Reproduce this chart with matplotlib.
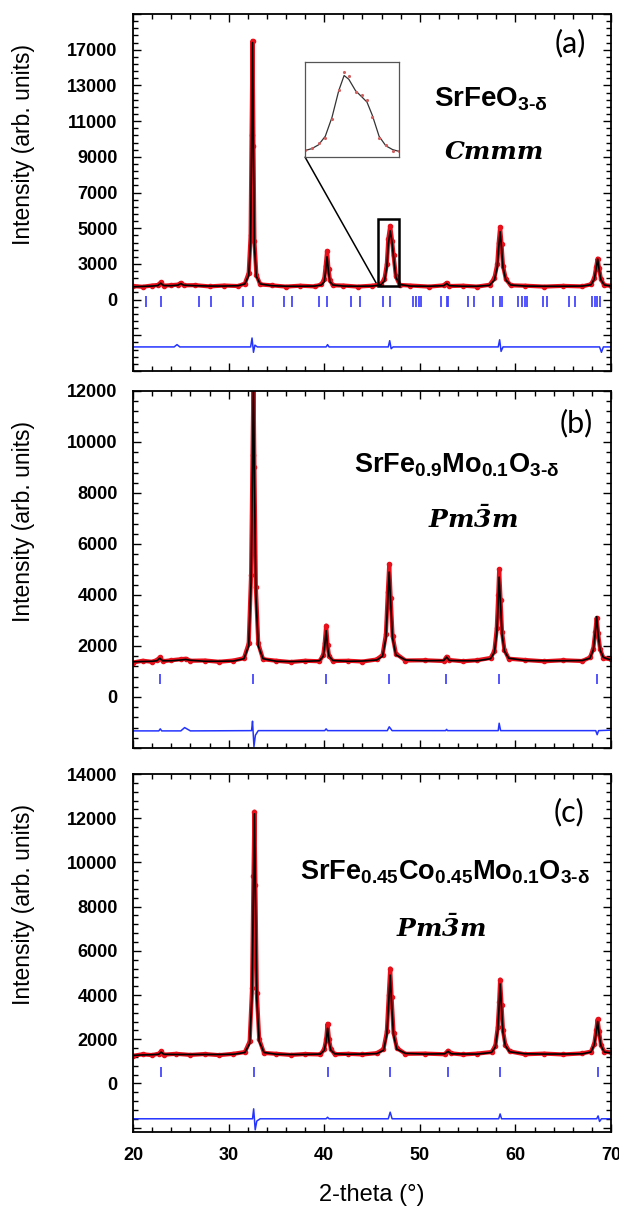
import matplotlib.pyplot as plt
from matplotlib.ticker import MultipleLocator, FuncFormatter
from matplotlib.patches import Rectangle, ConnectionPatch

plt.rcParams['font.family'] = ['Liberation Sans', 'DejaVu Sans']
plt.rcParams['font.weight'] = 'bold'
plt.rcParams['mathtext.fontset'] = 'custom'
plt.rcParams['mathtext.rm'] = 'Liberation Sans'
plt.rcParams['mathtext.bf'] = 'Liberation Sans:bold'
plt.rcParams['mathtext.bfit'] = 'DejaVu Serif:italic:bold'

# ---------------- panel (a) SrFeO3-d ----------------
x_a = [20.0, 21.0, 22.0, 22.6, 22.9, 23.2, 24.0, 24.7, 25.0, 25.3,
       26.5, 28.0, 29.5, 31.0, 31.7, 32.1, 32.3, 32.4, 32.5, 32.6,
       32.7, 32.9, 33.3, 34.5, 36.0, 37.5, 39.0, 39.7, 40.0, 40.15,
       40.3, 40.45, 40.6, 40.9, 42.0, 43.5, 45.0, 45.9, 46.3, 46.55,
       46.7, 46.9, 47.1, 47.25, 47.5, 47.9, 49.0, 51.0, 52.5, 52.8,
       53.1, 54.5, 56.0, 57.3, 57.8, 58.1, 58.25, 58.4, 58.55, 58.7,
       59.0, 59.5, 61.0, 63.0, 65.0, 67.0, 67.9, 68.25, 68.45, 68.6,
       68.75, 68.95, 69.3, 70.0]
calc_a = [1720, 1740, 1760, 1790, 1920, 1790, 1780, 1810, 1900, 1810,
          1780, 1760, 1760, 1780, 1880, 2350, 4200, 9500, 15400, 9000,
          4000, 2300, 1880, 1780, 1750, 1750, 1760, 1820, 2000, 2600,
          3400, 2550, 2000, 1820, 1760, 1750, 1760, 1820, 2050, 2800,
          4100, 4850, 4200, 3400, 2250, 1850, 1760, 1750, 1780, 1900,
          1780, 1750, 1750, 1800, 2100, 2800, 3900, 4800, 3900, 2800,
          2100, 1820, 1760, 1750, 1750, 1760, 1830, 2150, 2750, 3280,
          2700, 2100, 1820, 1760]
obs_a = [1760, 1720, 1790, 1820, 1960, 1780, 1810, 1840, 1940, 1800,
         1810, 1740, 1790, 1760, 1900, 2500, 4600, 10200, 15500, 9600,
         4300, 2400, 1850, 1800, 1730, 1780, 1740, 1850, 2150, 2900,
         3730, 2700, 2100, 1800, 1790, 1730, 1780, 1850, 2150, 3000,
         4400, 5130, 4300, 3500, 2300, 1820, 1790, 1730, 1800, 1940,
         1760, 1780, 1730, 1830, 2200, 3000, 4200, 5070, 4100, 2900,
         2150, 1800, 1780, 1730, 1770, 1740, 1860, 2200, 2850, 3300,
         2750, 2150, 1800, 1780]
ticks_a = [21.4, 22.9, 26.9, 28.2, 31.5, 32.5, 35.8, 36.6, 39.5, 40.3,
           42.8, 43.7, 46.1, 46.9, 49.3, 49.6, 49.9, 50.1, 52.2, 52.8,
           52.95, 55.0, 55.7, 57.7, 58.4, 58.55, 60.3, 60.7, 61.0, 61.2,
           62.9, 63.3, 65.6, 66.2, 68.0, 68.3, 68.5, 68.8]
dx_a = [20.0, 24.3, 24.6, 24.9, 32.3, 32.45, 32.6, 32.75, 33.0, 40.2,
        40.35, 40.5, 46.7, 46.85, 47.0, 47.2, 58.2, 58.35, 58.5, 58.7,
        68.8, 69.0, 69.2, 70.0]
dy_a = [-1650, -1650, -1520, -1650, -1650, -1150, -1950, -1550, -1650, -1650,
        -1520, -1650, -1650, -1300, -1750, -1650, -1650, -1250, -1900, -1650,
        -1650, -1950, -1650, -1650]
ytick_pos_a = [1000, 3000, 5000, 7000, 9000, 11000, 13000, 15000]
ytick_lab_a = ['0', '3000', '5000', '7000', '9000', '11000', '13000', '17000']

# inset of the (a) peak near 46.9
in_x = [46.2, 46.3, 46.4, 46.5, 46.6, 46.7, 46.78, 46.85, 46.95, 47.05,
        47.12, 47.2, 47.3, 47.4, 47.5, 47.6]
in_calc = [1780, 1860, 2020, 2380, 3180, 4300, 4940, 4780, 4300, 4020,
           3820, 3260, 2380, 1980, 1820, 1740]
in_obs = [1820, 1900, 2100, 2300, 3100, 4350, 5100, 4900, 4250, 4100,
          3900, 3200, 2300, 2000, 1780, 1760]

# ---------------- panel (b) SrFe0.9Mo0.1O3-d ----------------
x_b = [20.0, 21.0, 22.0, 22.5, 22.8, 23.1, 24.0, 25.0, 25.5, 26.0,
       27.5, 29.0, 30.5, 31.6, 32.1, 32.35, 32.5, 32.6, 32.7, 32.85,
       33.1, 33.6, 35.0, 36.5, 38.0, 39.5, 39.9, 40.05, 40.2, 40.35,
       40.5, 40.9, 42.5, 44.0, 45.5, 46.1, 46.45, 46.65, 46.8, 46.95,
       47.15, 47.5, 48.5, 50.5, 52.5, 52.8, 53.1, 54.5, 56.0, 57.4,
       57.8, 58.05, 58.2, 58.3, 58.45, 58.6, 58.85, 59.3, 61.0, 63.0,
       65.0, 67.0, 67.8, 68.15, 68.35, 68.5, 68.65, 68.85, 69.2, 70.0]
calc_b = [1380, 1390, 1400, 1420, 1520, 1420, 1420, 1450, 1470, 1440,
          1400, 1400, 1410, 1500, 2000, 4500, 9000, 12500, 8500, 4000,
          2000, 1500, 1400, 1390, 1400, 1420, 1600, 2000, 2600, 1950,
          1600, 1430, 1400, 1410, 1450, 1600, 2300, 3800, 4900, 3700,
          2300, 1650, 1450, 1420, 1430, 1560, 1430, 1420, 1420, 1500,
          1750, 2500, 3700, 4700, 3600, 2450, 1800, 1520, 1430, 1420,
          1420, 1430, 1520, 1850, 2500, 3150, 2450, 1850, 1550, 1450]
obs_b = [1350, 1420, 1380, 1450, 1550, 1400, 1440, 1480, 1500, 1420,
         1430, 1380, 1430, 1520, 2100, 4800, 9500, 12500, 9000, 4300,
         2100, 1480, 1420, 1370, 1420, 1400, 1650, 2100, 2800, 2050,
         1620, 1410, 1420, 1390, 1470, 1650, 2450, 4100, 5200, 3900,
         2400, 1700, 1430, 1440, 1410, 1580, 1450, 1400, 1440, 1530,
         1800, 2700, 4000, 5000, 3800, 2550, 1850, 1500, 1450, 1400,
         1440, 1410, 1550, 1900, 2550, 3100, 2500, 1900, 1530, 1470]
ticks_b = [22.85, 32.55, 40.15, 46.8, 52.75, 58.3, 68.5]
dx_b = [20.0, 22.7, 22.85, 23.0, 25.0, 25.4, 26.0, 32.4, 32.5, 32.65,
        32.8, 33.1, 40.05, 40.2, 40.35, 46.6, 46.8, 47.1, 52.7, 52.8,
        52.9, 58.2, 58.3, 58.45, 68.4, 68.55, 68.7, 70.0]
dy_b = [-1330, -1330, -1250, -1330, -1330, -1200, -1330, -1320, -950, -1950,
        -1500, -1320, -1320, -1250, -1320, -1320, -1170, -1320, -1320, -1270,
        -1320, -1320, -1030, -1320, -1320, -1480, -1320, -1300]

# ---------------- panel (c) SrFe0.45Co0.45Mo0.1O3-d ----------------
x_c = [20.0, 21.0, 22.0, 22.7, 22.95, 23.2, 24.5, 26.0, 27.5, 29.0,
       30.5, 31.7, 32.2, 32.45, 32.6, 32.7, 32.8, 32.95, 33.2, 33.7,
       35.0, 36.5, 38.0, 39.6, 40.0, 40.2, 40.35, 40.5, 40.7, 41.1,
       42.5, 44.0, 45.5, 46.2, 46.55, 46.75, 46.9, 47.05, 47.25, 47.6,
       48.5, 50.5, 52.6, 52.95, 53.3, 54.5, 56.0, 57.5, 57.9, 58.15,
       58.3, 58.4, 58.55, 58.7, 58.95, 59.4, 61.0, 63.0, 65.0, 67.0,
       67.9, 68.25, 68.45, 68.6, 68.75, 68.95, 69.3, 70.0]
calc_c = [1270, 1290, 1300, 1320, 1420, 1320, 1310, 1310, 1310, 1310,
          1320, 1400, 1800, 4000, 9000, 12200, 8500, 3800, 1900, 1400,
          1320, 1310, 1310, 1330, 1500, 1900, 2500, 1900, 1500, 1340,
          1320, 1330, 1350, 1500, 2200, 3700, 4900, 3600, 2200, 1550,
          1360, 1330, 1340, 1450, 1340, 1330, 1330, 1400, 1650, 2400,
          3500, 4500, 3400, 2300, 1700, 1430, 1340, 1330, 1330, 1340,
          1420, 1750, 2300, 2800, 2250, 1700, 1420, 1380]
obs_c = [1250, 1320, 1280, 1350, 1450, 1300, 1340, 1290, 1330, 1280,
         1340, 1420, 1900, 4300, 9400, 12300, 9000, 4100, 2000, 1380,
         1340, 1290, 1330, 1310, 1550, 2000, 2700, 2000, 1550, 1320,
         1340, 1310, 1370, 1550, 2350, 4000, 5200, 3900, 2300, 1600,
         1340, 1350, 1320, 1480, 1360, 1310, 1350, 1420, 1700, 2550,
         3700, 4700, 3550, 2400, 1750, 1450, 1320, 1350, 1310, 1360,
         1440, 1800, 2400, 2900, 2350, 1750, 1440, 1400]
ticks_c = [22.95, 32.7, 40.35, 46.9, 52.95, 58.4, 68.6]
dx_c = [20.0, 32.5, 32.62, 32.78, 32.95, 33.3, 40.2, 40.35, 40.5, 46.7,
        46.9, 47.1, 58.25, 58.4, 58.55, 68.5, 68.65, 68.8, 69.0, 70.0]
dy_c = [-1600, -1600, -1150, -2100, -1700, -1600, -1600, -1530, -1600, -1600,
        -1300, -1600, -1600, -1380, -1600, -1600, -1470, -1720, -1600, -1600]

RED = '#e8101a'
BLUE_TICK = '#4646ff'
BLUE_DIFF = '#2434ff'

fig = plt.figure(figsize=(6.19, 12.07), dpi=100)
ax_a = fig.add_axes([0.2149, 0.6926, 0.7722, 0.2958])
ax_b = fig.add_axes([0.2149, 0.3803, 0.7722, 0.2958])
ax_c = fig.add_axes([0.2149, 0.0621, 0.7722, 0.2966])

panels = [
    (ax_a, x_a, obs_a, calc_a, ticks_a, (600, 1200), dx_a, dy_a, (-3000, 17000)),
    (ax_b, x_b, obs_b, calc_b, ticks_b, (500, 900), dx_b, dy_b, (-2000, 12000)),
    (ax_c, x_c, obs_c, calc_c, ticks_c, (300, 750), dx_c, dy_c, (-2200, 14000)),
]

for ax, x, obs, calc, hkl, tk, dx, dy, ylim in panels:
    ax.plot(x, obs, color=RED, lw=3.0, marker='o', ms=3, zorder=2)
    ax.plot(x, calc, color='black', lw=1.2, zorder=3)
    ax.vlines(hkl, tk[0], tk[1], color=BLUE_TICK, lw=1.3)
    ax.plot(dx, dy, color=BLUE_DIFF, lw=1.1)
    ax.set_xlim(20, 70)
    ax.set_ylim(*ylim)
    ax.xaxis.set_major_locator(MultipleLocator(10))
    ax.xaxis.set_minor_locator(MultipleLocator(2))
    ax.tick_params(which='both', direction='in', top=True, right=True,
                   labelsize=13, width=1.0, pad=11)
    ax.tick_params(which='major', length=6)
    ax.tick_params(which='minor', length=3.5)
    for s in ax.spines.values():
        s.set_linewidth(1.3)
    ax.set_ylabel('Intensity (arb. units)', fontsize=16.5, fontweight='normal')
    ax.yaxis.set_label_coords(-0.205, 0.635)
    if ax is not ax_c:
        ax.tick_params(labelbottom=False)

# panel (a): odd-thousand ticks, labelled as in the original figure
labels_a = dict(zip(ytick_pos_a, ytick_lab_a))
ax_a.yaxis.set_major_locator(MultipleLocator(2000, offset=1000))
ax_a.yaxis.set_minor_locator(MultipleLocator(400, offset=200))
ax_a.yaxis.set_major_formatter(FuncFormatter(lambda v, p: labels_a.get(int(round(v)), '')))
for ax in (ax_b, ax_c):
    ax.yaxis.set_major_locator(MultipleLocator(2000))
    ax.yaxis.set_minor_locator(MultipleLocator(400))
    ax.yaxis.set_major_formatter(FuncFormatter(lambda v, p: '%d' % v if v >= 0 else ''))

ax_c.set_xlabel('2-theta (°)', fontsize=17, fontweight='normal', labelpad=14)

# inset + zoom box on panel (a)
ax_a.add_patch(Rectangle((45.6, 1770), 2.2, 3750, fill=False, ec='black', lw=1.8, zorder=5))
ins = ax_a.inset_axes([0.360, 0.599, 0.197, 0.266])
ins.plot(in_x, in_calc, color='#333333', lw=0.9)
ins.plot(in_x, in_obs, ls='none', marker='.', ms=2.5, color='#d06060')
ins.set_xlim(46.2, 47.6)
ins.set_ylim(1500, 5500)
ins.set_xticks([])
ins.set_yticks([])
for s in ins.spines.values():
    s.set_linewidth(0.9)
    s.set_color('#555555')
con = ConnectionPatch(xyA=(0.360, 0.599), coordsA=ax_a.transAxes,
                      xyB=(45.6, 1770), coordsB=ax_a.transData,
                      color='black', lw=1.1)
ax_a.add_artist(con)

# panel annotations
lab_font = dict(family=['Lato', 'DejaVu Sans'], fontsize=22, fontweight='normal')
ax_a.text(0.915, 0.919, '(a)', transform=ax_a.transAxes, ha='center', va='center', **lab_font)
ax_b.text(0.927, 0.910, '(b)', transform=ax_b.transAxes, ha='center', va='center', **lab_font)
ax_c.text(0.912, 0.894, '(c)', transform=ax_c.transAxes, ha='center', va='center', **lab_font)

ax_a.text(0.748, 0.762, r'$\mathbf{SrFeO_{3‐δ}}$', transform=ax_a.transAxes,
          ha='center', va='center', fontsize=20)
ax_a.text(0.757, 0.614, 'Cmmm', transform=ax_a.transAxes, ha='center', va='center',
          family='DejaVu Serif', style='italic', fontweight='bold', fontsize=18)
ax_b.text(0.678, 0.793, r'$\mathbf{SrFe_{0.9}Mo_{0.1}O_{3‐δ}}$', transform=ax_b.transAxes,
          ha='center', va='center', fontsize=19.5)
ax_b.text(0.711, 0.639, r'$\mathbfit{Pm\bar{3}m}$', transform=ax_b.transAxes,
          ha='center', va='center', fontsize=18)
ax_c.text(0.653, 0.726, r'$\mathbf{SrFe_{0.45}Co_{0.45}Mo_{0.1}O_{3‐δ}}$', transform=ax_c.transAxes,
          ha='center', va='center', fontsize=19.5)
ax_c.text(0.644, 0.570, r'$\mathbfit{Pm\bar{3}m}$', transform=ax_c.transAxes,
          ha='center', va='center', fontsize=18)

plt.savefig('out.png', dpi=100)
